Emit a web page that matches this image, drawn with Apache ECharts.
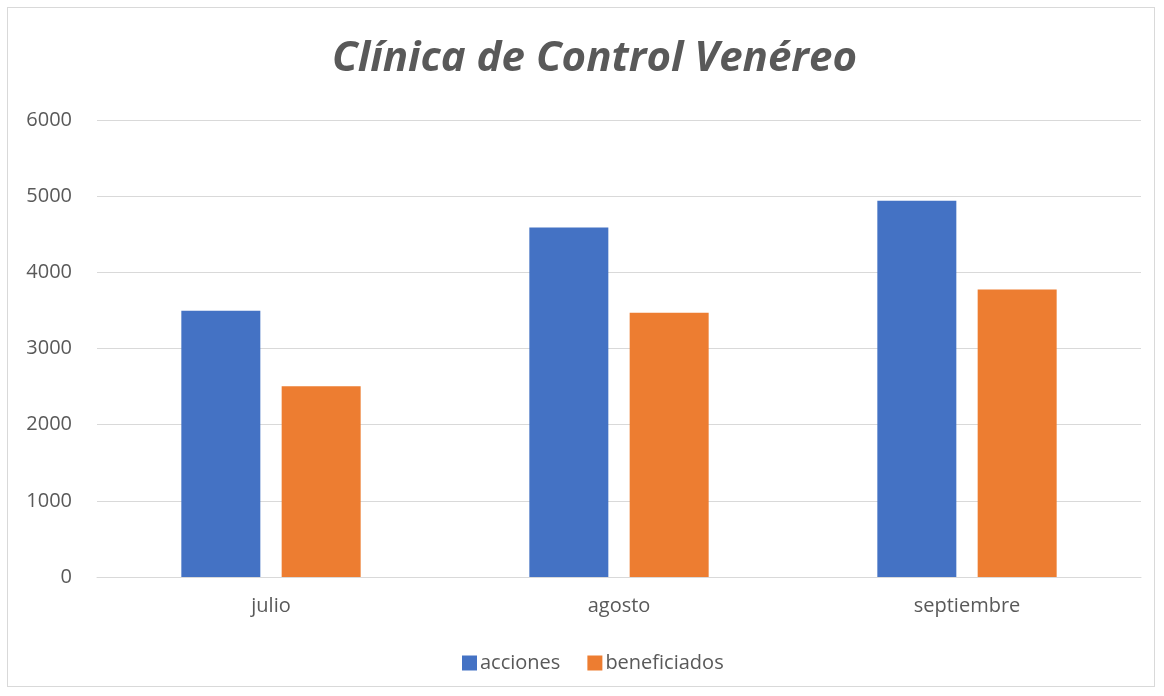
<!DOCTYPE html>
<html>
<head>
<meta charset="utf-8">
<script src="https://cdn.jsdelivr.net/npm/echarts@6/dist/echarts.min.js"></script>
<style>
  html, body { margin: 0; padding: 0; background: #fff; }
  #frame {
    position: absolute; left: 7px; top: 7px; width: 1148px; height: 680px;
    border: 1px solid #d9d9d9; box-sizing: border-box;
  }
  #chart { position: absolute; left: 0; top: 0; width: 1164px; height: 696px; }
</style>
</head>
<body>
<div id="frame"></div>
<div id="chart"></div>
<script>
// datos
const months = ['julio', 'agosto', 'septiembre']
const acciones = [3495, 4590, 4940]
const beneficiados = [2505, 3468, 3775]

const textColor = '#595959'
const font = 'Open Sans'

let myChart = echarts.init(document.getElementById('chart'))
let option = {
  title: {
    text: 'Clínica de Control Venéreo',
    left: 327,
    top: 33,
    textStyle: {
      fontFamily: font,
      fontStyle: 'italic',
      fontWeight: 'bold',
      fontSize: 42,
      color: textColor
    }
  },
  grid: {
    left: 97,
    right: 23,
    top: 120,
    bottom: 119
  },
  legend: {
    top: 648,
    left: 457,
    itemWidth: 15,
    itemHeight: 15,
    itemGap: 27,
    icon: 'rect',
    textStyle: { fontFamily: font, fontSize: 20, color: textColor, padding: [0, 0, 0, -2] },
    data: ['acciones', 'beneficiados']
  },
  xAxis: {
    type: 'category',
    data: months,
    axisLine: { lineStyle: { color: '#d9d9d9' } },
    axisTick: { show: false },
    axisLabel: { fontFamily: font, fontSize: 20, color: textColor, margin: 19 }
  },
  yAxis: {
    type: 'value',
    min: 0,
    max: 6000,
    interval: 1000,
    axisLine: { show: false },
    axisTick: { show: false },
    splitLine: { lineStyle: { color: '#d9d9d9', width: 1 } },
    axisLabel: {
      fontFamily: font, fontSize: 20, color: textColor, margin: 25,
      formatter: (v) => String(v)
    }
  },
  series: [
    {
      name: 'acciones',
      type: 'bar',
      data: acciones,
      barWidth: 79,
      barGap: '27%',
      itemStyle: { color: '#4472c4' }
    },
    {
      name: 'beneficiados',
      type: 'bar',
      data: beneficiados,
      barWidth: 79,
      itemStyle: { color: '#ed7d31' }
    }
  ]
}
myChart.setOption(option)
</script>
</body>
</html>
